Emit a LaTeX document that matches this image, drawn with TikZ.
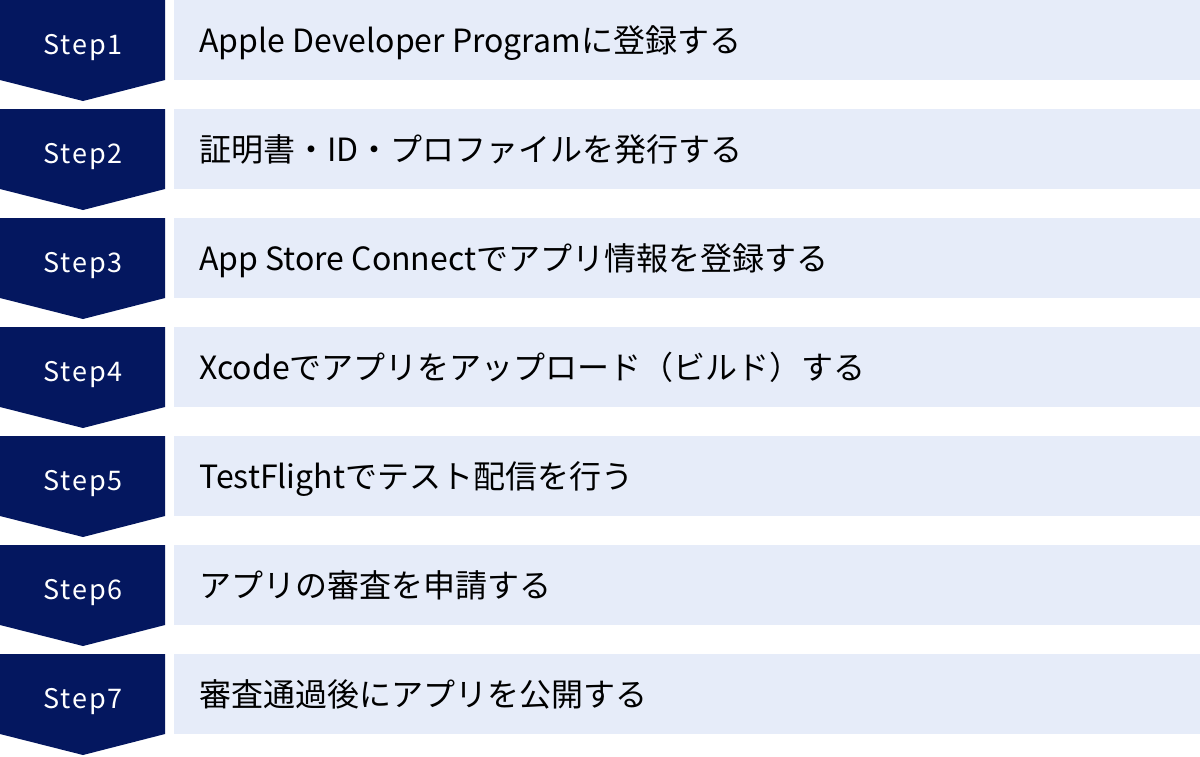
\documentclass[tikz,border=0pt]{standalone}
\usepackage{fontspec}
\setmainfont{Noto Sans CJK JP}
\newfontfamily\stepfont[LetterSpace=7]{Noto Sans CJK JP}
\definecolor{navy}{HTML}{04175F}
\definecolor{pale}{HTML}{E6ECF9}
\tikzset{
  stepbox/.style={fill=navy, draw=none},
  textbar/.style={fill=pale, draw=none},
  steplabel/.style={inner sep=0pt, anchor=base, text=white, font=\stepfont\fontsize{27}{32}\selectfont},
  rowlabel/.style={inner sep=0pt, anchor=base west, text=black, font=\fontsize{32}{38}\selectfont},
}
\begin{document}
\begin{tikzpicture}[x=1pt,y=-1pt]
\useasboundingbox[fill=white] (0,0) rectangle (1200,756);
\foreach \i/\t in {1/{Apple Developer Programに登録する},
                   2/{証明書・ID・プロファイルを発行する},
                   3/{App Store Connectでアプリ情報を登録する},
                   4/{Xcodeでアプリをアップロード（ビルド）する},
                   5/{TestFlightでテスト配信を行う},
                   6/{アプリの審査を申請する},
                   7/{審査通過後にアプリを公開する}} {
  \pgfmathsetmacro{\yy}{109*(\i-1)}
  \path[stepbox] (0,\yy) -- (165,\yy) -- (165,\yy+80) -- (83,\yy+101) -- (0,\yy+80) -- cycle;
  \path[textbar] (174,\yy) rectangle (1200,\yy+80);
  \node[steplabel] (step\i) at (83,\yy+54) {Step\i};
  \node[rowlabel] (text\i) at (199,\yy+52) {\t};
}
\end{tikzpicture}
\end{document}
